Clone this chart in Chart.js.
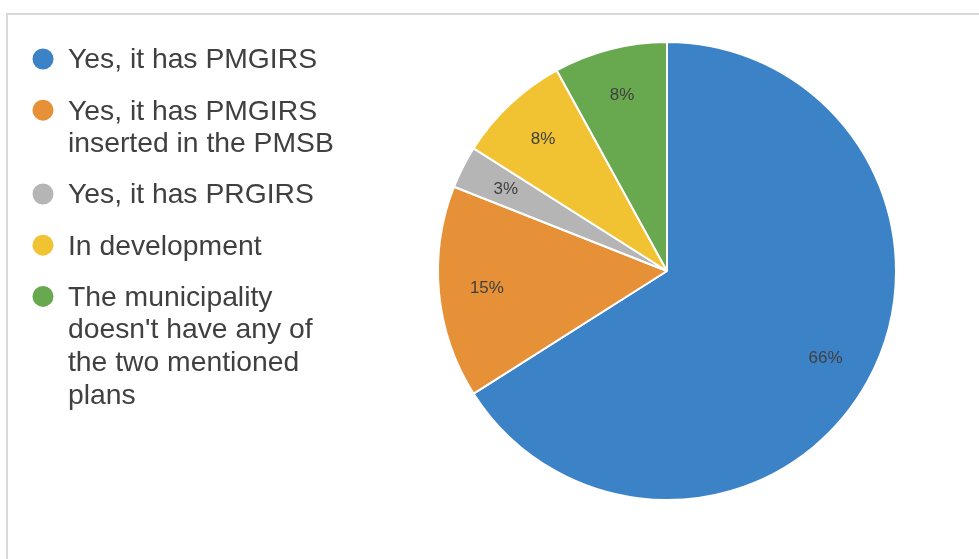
<!DOCTYPE html>
<html>
<head>
<meta charset="utf-8">
<script src="https://cdn.jsdelivr.net/npm/chart.js@4/dist/chart.umd.min.js"></script>
<style>
  html, body { margin: 0; padding: 0; background: #fff; overflow: hidden; }
  #frame {
    position: absolute; left: 6px; top: 13px; width: 1200px; height: 800px;
    border: 2px solid #d9d9d9;
  }
  #wrap { position: absolute; left: 0; top: 0; width: 979px; height: 559px; }
</style>
</head>
<body>
<div id="frame"></div>
<div id="wrap"><canvas id="chart"></canvas></div>
<script>
const categories = [
  'Yes, it has PMGIRS',
  'Yes, it has PMGIRS inserted in the PMSB',
  'Yes, it has PRGIRS',
  'In development',
  "The municipality doesn't have any of the two mentioned plans"
]
const shares = [66, 15, 3, 8, 8]
const colors = ['#3c82c6', '#e69037', '#b5b5b5', '#f1c232', '#68a84f']

const FONT = '"Liberation Sans", Arial, sans-serif'
const TEXT = '#404040'

// wrap a label into lines that fit maxWidth
function wrap(ctx, text, maxWidth) {
  const words = text.split(' ')
  const lines = []
  let line = ''
  for (const w of words) {
    const test = line ? line + ' ' + w : w
    if (ctx.measureText(test).width > maxWidth && line) {
      lines.push(line)
      line = w
    } else {
      line = test
    }
  }
  if (line) lines.push(line)
  return lines
}

const sideLegend = {
  id: 'sideLegend',
  afterDraw(chart) {
    const ctx = chart.ctx
    ctx.save()
    ctx.font = '28.3px ' + FONT
    ctx.textBaseline = 'middle'
    ctx.textAlign = 'left'
    const lineH = 32.6
    let y = 59
    categories.forEach((c, i) => {
      ctx.fillStyle = colors[i]
      ctx.beginPath()
      ctx.arc(43, y, 10.5, 0, Math.PI * 2)
      ctx.fill()
      ctx.fillStyle = TEXT
      const lines = wrap(ctx, c, 278)
      lines.forEach((l, k) => ctx.fillText(l, 68, y + 1.5 + k * lineH))
      y += lines.length * lineH + 18.6
    })
    ctx.restore()
  }
}

const sliceLabels = {
  id: 'sliceLabels',
  afterDatasetsDraw(chart) {
    const ctx = chart.ctx
    const meta = chart.getDatasetMeta(0)
    ctx.save()
    ctx.font = '17px ' + FONT
    ctx.fillStyle = TEXT
    ctx.textAlign = 'center'
    ctx.textBaseline = 'middle'
    meta.data.forEach((arc, i) => {
      const p = arc.getProps(['x', 'y', 'startAngle', 'endAngle', 'outerRadius'])
      const mid = (p.startAngle + p.endAngle) / 2
      const r = p.outerRadius * 0.79
      ctx.fillText(shares[i] + '%', p.x + Math.cos(mid) * r, p.y + Math.sin(mid) * r)
    })
    ctx.restore()
  }
}

new Chart(document.getElementById('chart'), {
  type: 'pie',
  data: {
    labels: categories,
    datasets: [{
      data: shares,
      backgroundColor: colors,
      borderColor: '#ffffff',
      borderWidth: 2
    }]
  },
  options: {
    responsive: true,
    maintainAspectRatio: false,
    animation: false,
    layout: { padding: { left: 437, right: 82, top: 41, bottom: 58 } },
    plugins: {
      legend: { display: false },
      tooltip: { enabled: false }
    }
  },
  plugins: [sideLegend, sliceLabels]
})
</script>
</body>
</html>
